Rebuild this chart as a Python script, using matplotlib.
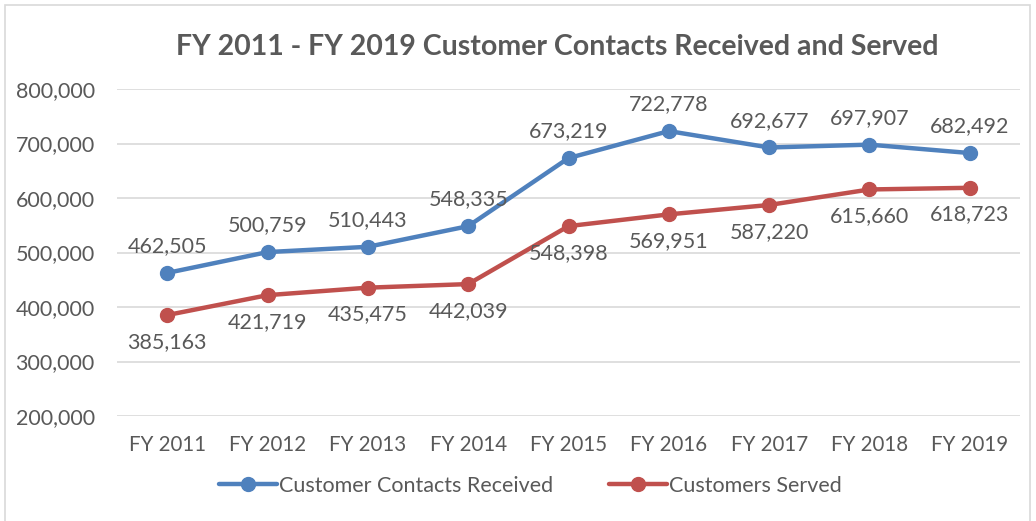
import matplotlib
matplotlib.use("Agg")
import matplotlib.pyplot as plt
from matplotlib.patches import Rectangle
from matplotlib.ticker import FuncFormatter

categories = ["FY 2011", "FY 2012", "FY 2013", "FY 2014", "FY 2015",
              "FY 2016", "FY 2017", "FY 2018", "FY 2019"]
received = [462505, 500759, 510443, 548335, 673219, 722778, 692677, 697907, 682492]
served = [385163, 421719, 435475, 442039, 548398, 569951, 587220, 615660, 618723]

plt.rcParams['font.family'] = ['Lato', 'DejaVu Sans']
TXT = '#595959'
BLUE = '#4F81BD'
RED = '#C0504D'

fig = plt.figure(figsize=(10.36, 5.21), dpi=100)
fig.patches.append(Rectangle((5/1036, -0.01), 1025/1036, 1 - 5/521 + 0.01,
                             transform=fig.transFigure, fill=False,
                             edgecolor='#D9D9D9', linewidth=1.2))
ax = fig.add_axes([117/1036, 1 - 416/521, (1020 - 117)/1036, (416 - 89)/521])

x = list(range(len(categories)))
ax.plot(x, received, color=BLUE, lw=3.2, marker='o', ms=10,
        label='Customer Contacts Received', solid_capstyle='round')
ax.plot(x, served, color=RED, lw=3.2, marker='o', ms=10,
        label='Customers Served', solid_capstyle='round')

for xi, v in zip(x, received):
    ax.annotate(f"{v:,}", (xi, v), xytext=(0, 12), textcoords='offset points',
                ha='center', va='bottom', fontsize=15.5, color=TXT)
for xi, v in zip(x, served):
    ax.annotate(f"{v:,}", (xi, v), xytext=(0, -12), textcoords='offset points',
                ha='center', va='top', fontsize=15.5, color=TXT)

ax.set_xlim(-0.5, len(categories) - 0.5)
ax.set_ylim(200000, 800000)
ax.set_yticks(range(200000, 800001, 100000))
ax.yaxis.set_major_formatter(FuncFormatter(lambda v, p: f"{int(v):,}"))
ax.set_xticks(x)
ax.set_xticklabels(categories)
ax.tick_params(axis='both', length=0, labelcolor=TXT)
ax.tick_params(axis='y', pad=16, labelsize=15.5)
ax.tick_params(axis='x', pad=14, labelsize=14.8)
ax.grid(axis='y', color='#D9D9D9', lw=1.2)
ax.set_axisbelow(True)
for s in ax.spines.values():
    s.set_visible(False)

fig.text(0.538, 1 - 47/521, "FY 2011 - FY 2019 Customer Contacts Received and Served",
         ha='center', va='center', fontsize=20.5, fontweight='bold', color=TXT)

leg = fig.legend(loc='center', bbox_to_anchor=(0.512, 1 - 486/521), ncol=2,
                 frameon=False, fontsize=15.5, handlelength=2.7, handletextpad=0.1,
                 columnspacing=2.6)
for t in leg.get_texts():
    t.set_color(TXT)

fig.savefig("out.png", dpi=100)
